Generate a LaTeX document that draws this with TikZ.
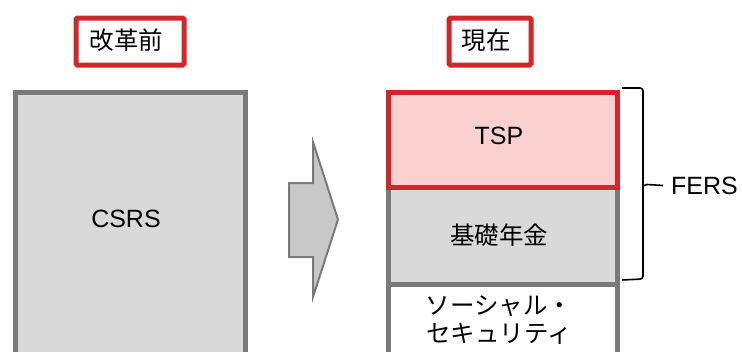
\documentclass[tikz,border=0pt]{standalone}
\usepackage{fontspec}
\setmainfont{Liberation Sans}
\newfontfamily\jp{Noto Sans CJK JP}
\definecolor{redb}{HTML}{D0282A}
\definecolor{pinkf}{HTML}{F8D0D0}
\definecolor{grayb}{HTML}{7A7A7A}
\definecolor{grayf}{HTML}{D9D9D9}
\definecolor{arrowf}{HTML}{C8C8C8}
\begin{document}
\begin{tikzpicture}[x=1pt,y=-1pt,
  tag/.style={draw=redb, line width=5pt, fill=white, rounded corners=1.5pt, inner sep=0pt, anchor=north west},
  block/.style={draw=grayb, line width=5pt, fill=grayf, inner sep=0pt, anchor=north west},
  txt/.style={inner sep=0pt, font=\fontsize{25}{28}\selectfont},
  jtxt/.style={inner sep=0pt, font=\jp\fontsize{24.5}{28}\selectfont, align=center}
]
\useasboundingbox (0,0) rectangle (742,351);
\clip (0,0) rectangle (742,351);
% tags
\node[tag, minimum width=108pt, minimum height=47pt] (tagL) at (73.5,15.5) {};
\node[jtxt] (tagLt) at (126.5,40) {改革前};
\node[tag, minimum width=82pt, minimum height=47pt] (tagR) at (446.5,15.5) {};
\node[jtxt] (tagRt) at (486,40) {現在};
% left block
\node[block, minimum width=230pt, minimum height=290pt] (csrs) at (12.5,89.5) {};
\node[txt] (csrst) at (126,219) {CSRS};
% arrow
\path[draw=grayb, line width=2pt, fill=arrowf, line join=miter]
  (289,183) -- (313,183) -- (313,142) -- (338,219.5) -- (313,297) -- (313,257) -- (289,257) -- cycle;
% right stack
\node[block, draw=grayb, fill=white, minimum width=229pt, minimum height=100pt] (ss) at (385.5,282) {};
\node[block, minimum width=229pt, minimum height=97.5pt] (kiso) at (385.5,184.5) {};
\node[block, draw=redb, fill=pinkf, minimum width=229pt, minimum height=95pt] (tsp) at (385.5,89.5) {};
\node[txt] (tspt) at (499,136) {TSP};
\node[jtxt] (kisot) at (499,235) {基礎年金};
\node[jtxt] (sst) at (499,320) {ソーシャル・\\セキュリティ};
% brace
\coordinate (btop) at (622,88);
\coordinate (bbot) at (622,280);
\coordinate (btip) at (643,186);
\draw[line width=1.6pt, rounded corners=3pt] (btop) -- (643,88) -- (btip) -- (643,279) -- (bbot);
\node[txt, anchor=west] (fers) at (671,186) {FERS};
\draw[line width=1.6pt] (btip) -- (647,184.5) -- (663,185.5);
\end{tikzpicture}
\end{document}
